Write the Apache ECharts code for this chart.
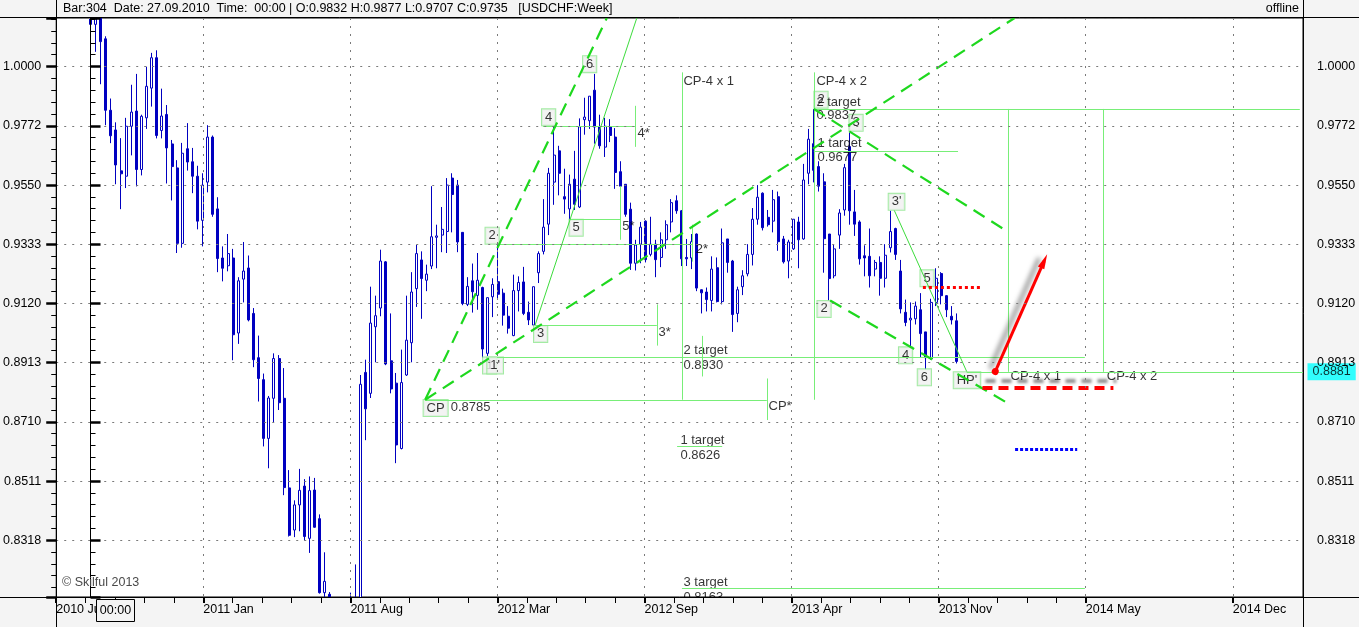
<!DOCTYPE html>
<html>
<head>
<meta charset="utf-8">
<title>USDCHF Week</title>
<script src="https://cdn.jsdelivr.net/npm/echarts@6.0.0/dist/echarts.min.js"></script>
<style>
html,body{margin:0;padding:0;background:#F4F4F4;overflow:hidden;}
#chart{width:1359px;height:627px;}
</style>
</head>
<body>
<div id="chart"></div>
<script>
// ---------------- data (weekly USDCHF, first bar = week of 30.08.2010) ----------------
const xTickLabels = ['2010 Jul','2011 Jan','2011 Aug','2012 Mar','2012 Sep','2013 Apr','2013 Nov','2014 May','2014 Dec'];
const yTickLabels = ['1.0000','0.9772','0.9550','0.9333','0.9120','0.8913','0.8710','0.8511','0.8318'];

const openP = [
1.0280,1.0166,1.0250,1.0109,0.9832,0.9757,0.9603,0.9583,0.9771,0.9829,
0.9608,0.9803,0.9917,1.0035,0.9755,0.9816,0.9704,0.9614,0.9336,0.9686,
0.9637,0.9583,0.9420,0.9561,0.9730,0.9462,0.9283,0.9255,0.9283,0.9016,
0.9207,0.9247,0.9085,0.8930,0.8854,0.8654,0.8790,0.8927,0.8790,0.8489,
0.8351,0.8433,0.8495,0.8324,0.8482,0.8388,0.8150,0.8145,0.7900,0.7720,
0.7480,0.7860,0.8000,0.7880,0.8879,0.8807,0.9038,0.9104,0.9269,0.8919,
0.8842,0.8620,0.8870,0.8982,0.9173,0.9276,0.9203,0.9254,0.9358,0.9366,
0.9379,0.9576,0.9550,0.9376,0.9117,0.9201,0.9149,0.9177,0.8945,0.9144,
0.9198,0.9157,0.9075,0.9007,0.9166,0.9197,0.9089,0.9044,0.9230,0.9307,
0.9406,0.9561,0.9678,0.9507,0.9462,0.9572,0.9469,0.9796,0.9792,0.9909,
0.9769,0.9692,0.9769,0.9730,0.9600,0.9553,0.9461,0.9264,0.9333,0.9417,
0.9296,0.9333,0.9285,0.9349,0.9414,0.9492,0.9455,0.9285,0.9283,0.9370,
0.9169,0.9161,0.9131,0.9248,0.9127,0.9352,0.9272,0.9085,0.9180,0.9226,
0.9296,0.9424,0.9520,0.9431,0.9417,0.9507,0.9352,0.9272,0.9316,0.9414,
0.9352,0.9594,0.9705,0.9619,0.9562,0.9370,0.9219,0.9366,0.9458,0.9694,
0.9451,0.9414,0.9291,0.9289,0.9243,0.9267,0.9210,0.9320,0.9390,0.9236,
0.9089,0.9062,0.9066,0.9098,0.9020,0.8927,0.9124,0.9227,0.9148,0.9075,0.9059];
const highP = [
1.0300,1.0280,1.0270,1.0119,0.9877,0.9786,0.9726,0.9803,0.9930,0.9972,
0.9815,1.0000,1.0054,1.0064,0.9915,0.9852,0.9719,0.9643,0.9708,0.9783,
0.9689,0.9622,0.9594,0.9775,0.9736,0.9505,0.9325,0.9370,0.9316,0.9214,
0.9341,0.9292,0.9104,0.9007,0.8875,0.8798,0.8945,0.8939,0.8894,0.8548,
0.8448,0.8552,0.8518,0.8527,0.8522,0.8402,0.8279,0.8152,0.8000,0.7800,
0.8080,0.8150,0.8240,0.8870,0.8923,0.9180,0.9148,0.9313,0.9272,0.9085,
0.8877,0.8958,0.9148,0.9232,0.9330,0.9307,0.9259,0.9546,0.9404,0.9469,
0.9576,0.9594,0.9569,0.9376,0.9214,0.9263,0.9301,0.9180,0.9141,0.9210,
0.9333,0.9173,0.9111,0.9223,0.9217,0.9251,0.9127,0.9180,0.9307,0.9498,
0.9614,0.9769,0.9697,0.9611,0.9589,0.9678,0.9801,0.9880,0.9886,0.9972,
0.9815,0.9803,0.9798,0.9764,0.9639,0.9553,0.9485,0.9349,0.9414,0.9420,
0.9433,0.9349,0.9376,0.9420,0.9498,0.9512,0.9458,0.9352,0.9370,0.9372,
0.9170,0.9177,0.9289,0.9285,0.9390,0.9352,0.9276,0.9180,0.9239,0.9333,
0.9465,0.9550,0.9523,0.9458,0.9532,0.9526,0.9363,0.9349,0.9424,0.9433,
0.9629,0.9761,0.9837,0.9639,0.9594,0.9370,0.9333,0.9461,0.9629,0.9747,
0.9532,0.9420,0.9329,0.9390,0.9276,0.9289,0.9333,0.9455,0.9393,0.9276,
0.9134,0.9124,0.9127,0.9157,0.9020,0.9137,0.9246,0.9232,0.9150,0.9111,0.9085];
const lowP = [
1.0064,1.0058,0.9932,0.9775,0.9707,0.9553,0.9461,0.9539,0.9661,0.9545,
0.9586,0.9761,0.9846,0.9725,0.9725,0.9556,0.9493,0.9301,0.9320,0.9604,
0.9520,0.9387,0.9325,0.9523,0.9433,0.9232,0.9199,0.9235,0.8921,0.8978,
0.9124,0.9057,0.8897,0.8779,0.8627,0.8554,0.8708,0.8750,0.8465,0.8330,
0.8328,0.8347,0.8317,0.8277,0.8359,0.8147,0.8090,0.7880,0.7700,0.7070,
0.7400,0.7650,0.7700,0.7820,0.8648,0.8791,0.8914,0.9075,0.8904,0.8807,
0.8571,0.8617,0.8867,0.8914,0.9108,0.9066,0.9164,0.9243,0.9246,0.9304,
0.9301,0.9376,0.9304,0.9114,0.9111,0.9088,0.9098,0.8930,0.8936,0.9072,
0.9134,0.9042,0.9014,0.9005,0.9092,0.9079,0.9044,0.9040,0.9193,0.9296,
0.9366,0.9477,0.9512,0.9444,0.9420,0.9458,0.9465,0.9739,0.9761,0.9705,
0.9686,0.9655,0.9711,0.9536,0.9498,0.9433,0.9240,0.9238,0.9264,0.9267,
0.9289,0.9214,0.9250,0.9316,0.9376,0.9444,0.9254,0.9254,0.9243,0.9164,
0.9085,0.9092,0.9092,0.9124,0.9117,0.9230,0.9020,0.9054,0.9150,0.9217,
0.9256,0.9404,0.9383,0.9397,0.9376,0.9309,0.9263,0.9210,0.9312,0.9246,
0.9349,0.9553,0.9560,0.9526,0.9230,0.9131,0.9210,0.9316,0.9437,0.9404,
0.9363,0.9259,0.9217,0.9177,0.9217,0.9148,0.9177,0.9303,0.9276,0.9085,
0.9040,0.8962,0.9046,0.8930,0.8889,0.8923,0.9111,0.9117,0.9072,0.9046,0.8910];
const closeP = [
1.0166,1.0250,1.0098,0.9832,0.9735,0.9625,0.9592,0.9771,0.9825,0.9608,
0.9809,0.9924,1.0035,0.9736,0.9810,0.9689,0.9619,0.9336,0.9669,0.9636,
0.9583,0.9417,0.9550,0.9730,0.9442,0.9281,0.9246,0.9299,0.9010,0.9201,
0.9236,0.9062,0.8923,0.8858,0.8654,0.8791,0.8927,0.8775,0.8490,0.8334,
0.8433,0.8481,0.8330,0.8480,0.8360,0.8150,0.8186,0.7900,0.7720,0.7480,
0.7860,0.8000,0.7880,0.8838,0.8754,0.9051,0.9077,0.9272,0.8908,0.8822,
0.8632,0.8844,0.8991,0.9161,0.9299,0.9209,0.9225,0.9360,0.9363,0.9387,
0.9550,0.9515,0.9341,0.9120,0.9181,0.9162,0.9203,0.8960,0.9141,0.9188,
0.9153,0.9079,0.9033,0.9166,0.9195,0.9085,0.9062,0.9180,0.9299,0.9395,
0.9594,0.9662,0.9594,0.9498,0.9553,0.9479,0.9769,0.9806,0.9886,0.9768,
0.9697,0.9771,0.9736,0.9597,0.9546,0.9442,0.9264,0.9330,0.9395,0.9277,
0.9333,0.9277,0.9349,0.9404,0.9485,0.9455,0.9280,0.9280,0.9342,0.9175,
0.9158,0.9134,0.9243,0.9127,0.9338,0.9267,0.9081,0.9169,0.9219,0.9296,
0.9424,0.9505,0.9393,0.9404,0.9496,0.9342,0.9269,0.9341,0.9424,0.9349,
0.9569,0.9722,0.9605,0.9546,0.9353,0.9209,0.9316,0.9447,0.9615,0.9455,
0.9406,0.9280,0.9283,0.9219,0.9267,0.9210,0.9293,0.9379,0.9296,0.9101,
0.9053,0.9068,0.9111,0.9014,0.8930,0.9124,0.9210,0.9148,0.9098,0.9062,0.8917];

// price-axis scale (ratio between grid levels) and visible window
const LOG_BASE = 1.0232916;
const Y_MIN = 0.81363, Y_MAX = 1.01912;
// bar-index window of the chart (bar 0 = first candle)
const X_MIN = -6.732, X_MAX = 238.02;
const X_MAJOR_MAX = 8.4772;   // number of date divisions spanned by the plot

// ---------------- analysis drawings, in [bar index, price] ----------------
const dashedLines = [
  [65.7, 0.8785, 101.35, Y_MAX],
  [65.7, 0.8785, 181.4, Y_MAX],
  [142.0, 0.9837, 180.1, 0.9378],
  [145.2, 0.9131, 180.1, 0.8773]
];
const thinLines = [
  [87.28, 0.9044, 107.24, Y_MAX],
  [157.8, 0.9456, 172.0, 0.8882]
];
const levelLines = [
  [88.8, 0.9772, 106.9, 0.9772], [106.9, 0.9849, 106.9, 0.9693],
  [94.15, 0.9423, 103.97, 0.9423], [103.97, 0.9546, 103.97, 0.9349],
  [80.0, 0.9332, 118.2, 0.9332], [118.2, 0.9404, 118.2, 0.9270],
  [87.28, 0.9044, 111.17, 0.9044], [111.17, 0.9117, 111.17, 0.8972],
  [79.8, 0.8933, 195.2, 0.8933], [120.06, 0.9006, 120.06, 0.8865],
  [65.7, 0.8785, 132.76, 0.8785], [132.76, 0.8858, 132.76, 0.8716],
  [116.07, 0.9978, 116.07, 0.8785], [142.1, 0.9978, 142.1, 0.8785],
  [115.15, 0.8626, 124.0, 0.8626],
  [116.1, 0.8163, 195.2, 0.8163],
  [142.0, 0.9837, 237.4, 0.9837],
  [142.0, 0.9677, 170.3, 0.9677],
  [172.0, 0.8881, X_MAX, 0.8881],
  [180.1, 0.9837, 180.1, 0.8881], [198.8, 0.9837, 198.8, 0.8881]
];
const redDotted = [[163.4, 0.9179, 174.9, 0.9179]];
const redDashed = [[175.1, 0.8825, 200.8, 0.8825]];
const redArrow = [[177.6, 0.8882, 187.2, 0.9272]];
const blueDotted = [[181.5, 0.8616, 193.7, 0.8616]];

const boxLabels = [
  [97.98, 1.0010, '6'], [89.93, 0.9805, '4'], [78.84, 0.9364, '2'], [95.33, 0.9393, '5'],
  [88.36, 0.9013, '3'], [78.35, 0.8903, '1'], [79.43, 0.8903, "1'"], [67.75, 0.8757, 'CP'],
  [143.4, 0.98725, '2'], [150.28, 0.9784, '3'], [144.0, 0.9101, '2'], [158.23, 0.9488, "3'"],
  [164.22, 0.9210, '5'], [160.0, 0.8938, '4'], [163.69, 0.8862, '6'], [172.06, 0.8852, "HP'"]
];
const textLabels = [
  [107.3, 0.9744, '4*'], [104.3, 0.9397, '5*'], [111.4, 0.9018, '3*'], [118.7, 0.9313, '2*'],
  [133.0, 0.8762, 'CP*'], [70.6, 0.8758, '0.8785'],
  [116.3, 0.9943, 'CP-4 x 1'], [142.4, 0.9943, 'CP-4 x 2'],
  [116.3, 0.8956, '2 target'], [116.3, 0.8902, '0.8930'],
  [115.7, 0.8647, '1 target'], [115.7, 0.8597, '0.8626'],
  [116.3, 0.8184, '3 target'], [116.3, 0.8135, '0.8163'],
  [142.4, 0.98633, '2 target'], [142.4, 0.98112, '0.9837'],
  [142.6, 0.97050, '1 target'], [142.6, 0.96522, '0.9677'],
  [180.5, 0.88635, 'CP-4 x 1'], [199.4, 0.88635, 'CP-4 x 2']
];
const lastPrice = 0.8881;

// ---------------- chart ----------------
const FONT = '"Liberation Sans", Arial, sans-serif';
const BLUE = '#0000C0';
const chart = echarts.init(document.getElementById('chart'), null, {renderer: 'canvas', width: 1359, height: 627});

const xMajorVals = xTickLabels.map((_, k) => k);
const xMinorVals = [];
for (let k = 1; k < 35; k++) if (k % 5) xMinorVals.push(k / 5);

function fmtPrice(v) {
  const k = Math.log(v) / Math.log(LOG_BASE);
  const r = Math.round(k);
  if (Math.abs(k - r) > 0.02 || r > 0 || -r >= yTickLabels.length) return '';
  return yTickLabels[-r];
}
function priceAxis(pos) {
  return {
    type: 'log', logBase: LOG_BASE, min: Y_MIN, max: Y_MAX, position: pos, z: 10,
    axisLine: {show: true, lineStyle: {color: '#000', width: 1}},
    axisTick: {show: true, length: 10, lineStyle: {color: '#000', width: 2.5}},
    minorTick: {show: true, splitNumber: 5, length: 5, lineStyle: {color: '#000', width: 1}},
    axisLabel: {show: true, margin: pos === 'left' ? 15 : 14, color: '#000', fontSize: 12.5, fontFamily: FONT,
      showMinLabel: false, showMaxLabel: false, formatter: fmtPrice},
    splitLine: {show: pos === 'left', lineStyle: {color: '#7a7a7a', type: [2, 6], width: 1}}
  };
}
function segs(list) { return list.map(s => [{coord: [s[0], s[1]]}, {coord: [s[2], s[3]]}]); }
function lineGroup(list, style, extra) {
  return {
    type: 'scatter', xAxisIndex: 1, yAxisIndex: 0, data: [], silent: true, z: 3,
    markLine: Object.assign({silent: true, symbol: 'none', label: {show: false}, animation: false,
      emphasis: {disabled: true}, lineStyle: style, data: segs(list)}, extra || {})
  };
}
function labelSeries(data, label, z) {
  return {type: 'scatter', xAxisIndex: 1, yAxisIndex: 0, silent: true, clip: false, z: z,
    symbol: 'rect', symbolSize: 1, itemStyle: {color: 'rgba(0,0,0,0)'},
    emphasis: {disabled: true}, data: data,
    label: Object.assign({show: true, formatter: p => p.data[2], color: '#000', fontSize: 13, fontFamily: FONT}, label)};
}

const candleData = openP.map((o, i) => [i, o, closeP[i], lowP[i], highP[i]]);

const option = {
  animation: false,
  backgroundColor: '#F4F4F4',
  textStyle: {fontFamily: FONT},
  grid: {left: 56, right: 56, top: 18, bottom: 30, show: true, backgroundColor: '#FFFFFF', borderColor: '#000', borderWidth: 1},
  xAxis: [
    {type: 'value', min: 0, max: X_MAJOR_MAX, interval: 1, position: 'bottom', z: 10,
     axisLine: {show: true, lineStyle: {color: '#000'}},
     axisTick: {show: true, length: 6, customValues: xMajorVals, lineStyle: {color: '#000', width: 2}},
     axisLabel: {show: true, customValues: xMajorVals, align: 'left', margin: 6, color: '#000', fontSize: 12.5, fontFamily: FONT,
       formatter: v => xTickLabels[Math.round(v)] || ''},
     splitLine: {show: true, lineStyle: {color: '#7a7a7a', type: [2, 6], width: 1}}},
    {type: 'value', min: X_MIN, max: X_MAX, show: false},
    {type: 'value', min: 0, max: X_MAJOR_MAX, position: 'bottom', z: 10,
     axisLine: {show: false}, axisLabel: {show: false}, splitLine: {show: false},
     axisTick: {show: true, length: 6, customValues: xMinorVals, lineStyle: {color: '#000', width: 1}}}
  ],
  yAxis: [priceAxis('left'), priceAxis('right')],
  series: [
    {type: 'candlestick', xAxisIndex: 1, yAxisIndex: 0, barWidth: 2.5, silent: true, z: 2,
     encode: {x: 0, y: [1, 2, 3, 4]},
     data: candleData,
     itemStyle: {color: '#FFFFFF', color0: BLUE, borderColor: BLUE, borderColor0: BLUE, borderWidth: 1}},
    lineGroup(levelLines, {color: '#78EE78', width: 1, type: 'solid'}),
    lineGroup(thinLines, {color: '#3CDC3C', width: 1, type: 'solid'}),
    lineGroup(dashedLines, {color: '#1ED81E', width: 2.2, type: [13, 8]}),
    lineGroup(redDotted, {color: '#FF0000', width: 3, type: [3, 3]}),
    lineGroup(blueDotted, {color: '#0000FF', width: 3, type: [3, 2]}),
    lineGroup(redDashed, {color: '#FF0000', width: 4, type: [10, 6],
      shadowColor: 'rgba(0,0,0,0.45)', shadowBlur: 3, shadowOffsetX: 3, shadowOffsetY: -7}),
    lineGroup(redArrow, {color: '#FF0000', width: 3, type: 'solid',
      shadowColor: 'rgba(0,0,0,0.55)', shadowBlur: 5, shadowOffsetX: -5, shadowOffsetY: -3},
      {symbol: ['circle', 'triangle'], symbolSize: [7, 15]}),
    labelSeries(boxLabels, {position: 'inside', backgroundColor: '#F0F0F0', borderColor: '#8CE68C', borderWidth: 1, padding: [2, 3, 1, 3]}, 4),
    labelSeries(textLabels, {position: 'right', distance: 0}, 4),
    labelSeries([[X_MAX, lastPrice, lastPrice.toFixed(4)]],
      {position: 'right', distance: 4, fontSize: 12.5, backgroundColor: '#00FFFF', padding: [2, 5, 2, 5]}, 4)
  ],
  graphic: [
    {type: 'rect', z: 6, silent: true, shape: {x: 0, y: 598, width: 1359, height: 29}, style: {fill: '#F4F4F4'}},
    {type: 'rect', z: 6, silent: true, shape: {x: 0, y: 0, width: 1359, height: 17.5}, style: {fill: '#F4F4F4'}},
    {type: 'line', z: 20, silent: true, shape: {x1: 0, y1: 17.5, x2: 1359, y2: 17.5}, style: {stroke: '#000', lineWidth: 1}},
    {type: 'line', z: 20, silent: true, shape: {x1: 0, y1: 597.5, x2: 1359, y2: 597.5}, style: {stroke: '#000', lineWidth: 1}},
    {type: 'line', z: 20, silent: true, shape: {x1: 56.5, y1: 0, x2: 56.5, y2: 627}, style: {stroke: '#000', lineWidth: 1}},
    {type: 'line', z: 20, silent: true, shape: {x1: 1303.5, y1: 0, x2: 1303.5, y2: 627}, style: {stroke: '#000', lineWidth: 1}},
    {type: 'text', z: 20, silent: true, x: 63, y: 9,
     style: {text: 'Bar:304  Date: 27.09.2010  Time:  00:00 | O:0.9832 H:0.9877 L:0.9707 C:0.9735   [USDCHF:Week]',
       fill: '#000', font: '12.5px ' + FONT, textVerticalAlign: 'middle', verticalAlign: 'middle'}},
    {type: 'text', z: 20, silent: true, x: 1299, y: 9,
     style: {text: 'offline', fill: '#000', font: '12.5px ' + FONT, align: 'right', textAlign: 'right', verticalAlign: 'middle', textVerticalAlign: 'middle'}},
    {type: 'text', z: 20, silent: true, x: 62, y: 583,
     style: {text: '\u00A9 Skilful 2013', fill: '#4A4A4A', font: '12.5px ' + FONT, verticalAlign: 'middle', textVerticalAlign: 'middle'}},
    {type: 'rect', z: 21, silent: true, shape: {x: 96.5, y: 599.5, width: 38, height: 22}, style: {fill: '#F4F4F4', stroke: '#000', lineWidth: 1}},
    {type: 'text', z: 22, silent: true, x: 115.5, y: 611,
     style: {text: '00:00', fill: '#000', font: '12.5px ' + FONT, align: 'center', textAlign: 'center', verticalAlign: 'middle', textVerticalAlign: 'middle'}}
  ]
};
chart.setOption(option);
</script>
</body>
</html>
